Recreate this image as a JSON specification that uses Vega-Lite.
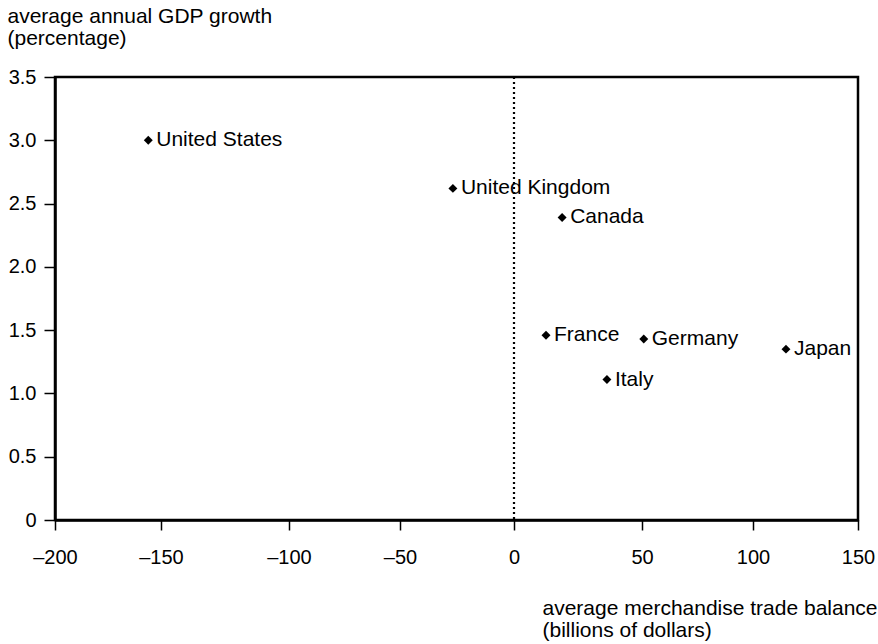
{
  "$schema": "https://vega.github.io/schema/vega-lite/v6.json",
  "autosize": "none",
  "padding": {"left": 55, "top": 77, "right": 20, "bottom": 124},
  "width": 803,
  "height": 443,
  "background": "white",
  "config": {
    "font": "Liberation Sans",
    "view": {"stroke": "black", "strokeWidth": 2.5},
    "axis": {"grid": false, "labelFlush": false, "labelOverlap": false, "labelFont": "Liberation Sans", "titleFont": "Liberation Sans", "labelColor": "black", "titleColor": "black", "domainColor": "black", "tickColor": "black"}
  },
  "datasets": {
    "countries": [
      {"country": "United States", "trade": -156, "growth": 3.0},
      {"country": "United Kingdom", "trade": -26.8, "growth": 2.62},
      {"country": "Canada", "trade": 18.8, "growth": 2.39},
      {"country": "France", "trade": 12.5, "growth": 1.46},
      {"country": "Germany", "trade": 50.8, "growth": 1.43},
      {"country": "Japan", "trade": 115.7, "growth": 1.35},
      {"country": "Italy", "trade": 36.3, "growth": 1.11}
    ],
    "zero": [{"trade": 0}]
  },
  "layer": [
    {
      "data": {"name": "zero"},
      "mark": {"type": "rule", "color": "black", "strokeWidth": 2.2, "strokeDash": [2, 3]},
      "encoding": {
        "x": {"field": "trade", "type": "quantitative"}
      }
    },
    {
      "data": {"name": "countries"},
      "mark": {"type": "point", "shape": "diamond", "filled": true, "color": "black", "size": 80, "opacity": 1},
      "encoding": {
        "x": {
          "field": "trade", "type": "quantitative",
          "scale": {"domain": [-200, -150, -100, -50, 0, 50, 100, 150], "range": [0, 106, 234, 345, 459, 587, 698, 803], "nice": false, "zero": false},
          "axis": {
            "values": [-200, -150, -100, -50, 0, 50, 100, 150],
            "labelExpr": "datum.value < 0 ? '–' + abs(datum.value) : '' + datum.value",
            "labelFontSize": 20,
            "labelPadding": 17,
            "tickSize": 10,
            "tickWidth": 1.5,
            "domainWidth": 2.5,
            "title": ["average merchandise trade balance", "(billions of dollars)"],
            "titleFontSize": 21,
            "titleFontWeight": "normal",
            "titleAlign": "left",
            "titleAnchor": "start",
            "titleBaseline": "top",
            "titleX": 487,
            "titleY": 77,
            "titleLineHeight": 22
          }
        },
        "y": {
          "field": "growth", "type": "quantitative",
          "scale": {"domain": [0, 3.5], "nice": false, "zero": true},
          "axis": {
            "values": [0, 0.5, 1, 1.5, 2, 2.5, 3, 3.5],
            "labelExpr": "datum.value == 0 ? '0' : format(datum.value, '.1f')",
            "labelFontSize": 20,
            "labelPadding": 8,
            "tickSize": 11,
            "tickWidth": 1.5,
            "domainWidth": 2.5,
            "title": ["average annual GDP growth", "(percentage)"],
            "titleFontSize": 21,
            "titleFontWeight": "normal",
            "titleAngle": 0,
            "titleAlign": "left",
            "titleAnchor": "end",
            "titleBaseline": "top",
            "titleX": -48,
            "titleY": -72,
            "titleLineHeight": 22
          }
        }
      }
    },
    {
      "data": {"name": "countries"},
      "mark": {"type": "text", "align": "left", "baseline": "middle", "dx": 8, "dy": 0, "fontSize": 21, "color": "black"},
      "encoding": {
        "x": {"field": "trade", "type": "quantitative"},
        "y": {"field": "growth", "type": "quantitative"},
        "text": {"field": "country"}
      }
    }
  ]
}
